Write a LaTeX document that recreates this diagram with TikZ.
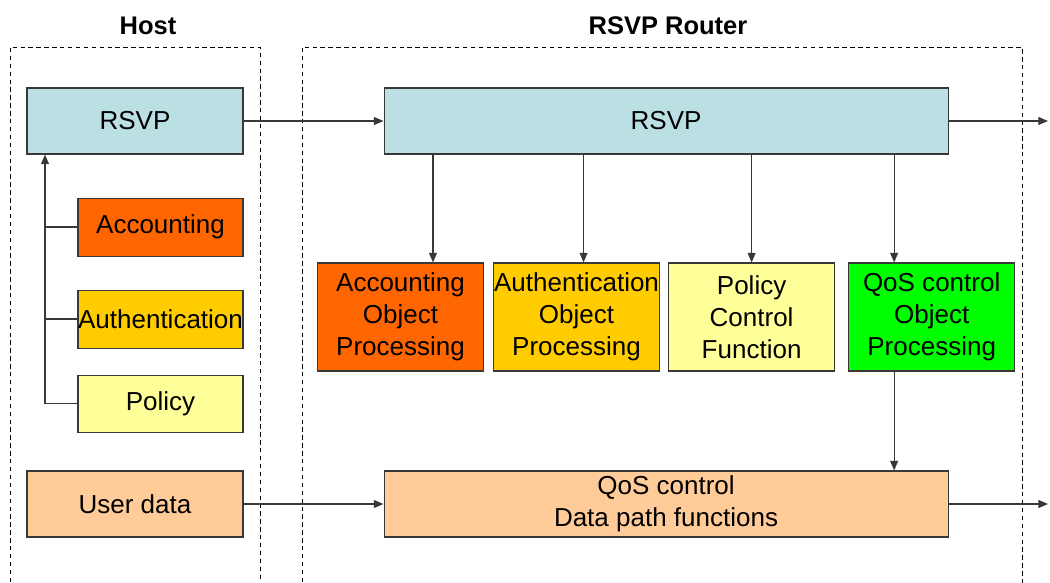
\documentclass[tikz,border=0pt]{standalone}
\usepackage{fontspec}
\setmainfont{Liberation Sans}
\usepackage{tikz}
\usetikzlibrary{arrows.meta, positioning}
\usepackage{xcolor}
\definecolor{cCyan}{HTML}{BBE0E3}
\definecolor{cOrange}{HTML}{FF6600}
\definecolor{cGold}{HTML}{FFCC00}
\definecolor{cLemon}{HTML}{FFFF99}
\definecolor{cGreen}{HTML}{00FF00}
\definecolor{cPeach}{HTML}{FFCC99}
\definecolor{cLine}{HTML}{383838}
\tikzset{
  basebox/.style={rectangle, draw=cLine, line width=0.6pt, align=center,
                  inner sep=0pt, font=\fontsize{14.8}{18.2}\selectfont},
  rsvpnode/.style={basebox, fill=cCyan, minimum width=4.32cm,
                   minimum height=1.32cm},
  hostnode/.style={basebox, minimum width=3.3cm, minimum height=1.16cm},
  objnode/.style={basebox, minimum width=3.32cm, minimum height=2.16cm},
  datanode/.style={basebox, fill=cPeach, minimum width=4.32cm,
                   minimum height=1.32cm},
  titlenode/.style={font=\fontsize{14.5}{17}\selectfont\bfseries},
  zonebox/.style={draw=black, line width=0.5pt, dash pattern=on 2.5pt off 2pt},
  arrow/.style={-{Triangle[length=5.5pt,width=4.5pt]}, line width=0.7pt,
                draw=cLine},
  plainline/.style={line width=0.7pt, draw=cLine}
}
\begin{document}
\begin{tikzpicture}[node distance=0.66cm and 2.8cm]
  \useasboundingbox (0,0) rectangle (21,-11.66);

  % ── Zones ──
  \node[titlenode] (hostT) at (2.96,-0.52) {Host};
  \node[titlenode] (routerT) at (13.36,-0.52) {RSVP Router};
  \draw[zonebox] (0.2,-11.8) |- (5.2,-0.94) -- (5.2,-11.8);
  \draw[zonebox] (6.04,-11.8) |- (20.44,-0.94) -- (20.44,-11.8);

  % ── Host ──
  \node[rsvpnode] (rsvpH) at (2.7,-2.42) {RSVP};
  \node[hostnode, fill=cOrange, below left=0.86cm and 0cm of rsvpH.south east]
      (acctH) {Accounting};
  \node[hostnode, fill=cGold, below=0.66cm of acctH] (authH) {Authentication};
  \node[hostnode, fill=cLemon, minimum height=1.14cm, below=0.52cm of authH]
      (polH) {Policy};
  \node[datanode] (userH) at (2.7,-10.08) {User data};

  % ── Router ──
  \node[rsvpnode, minimum width=11.28cm, right=of rsvpH] (rsvpR) {RSVP};
  \node[objnode, fill=cOrange] (acctR) at (8.01,-6.34)
      {Accounting\\Object\\Processing};
  \node[objnode, fill=cGold, right=0.18cm of acctR] (authR)
      {Authentication\\Object\\Processing};
  \node[objnode, fill=cLemon, right=0.16cm of authR] (polR)
      {Policy\\Control\\Function};
  \node[objnode, fill=cGreen, right=0.26cm of polR] (qosR)
      {QoS control\\Object\\Processing};
  \node[datanode, minimum width=11.28cm, right=of userH] (pathR)
      {QoS control\\Data path functions};

  \coordinate (fb) at (0.9,0);
  \coordinate (outR) at (20.96,0);

  % ── Host feedback ──
  \draw[arrow] (polH.west) -| (rsvpH.south -| fb);
  \draw[plainline] (acctH.west) -- (acctH.west -| fb);
  \draw[plainline] (authH.west) -- (authH.west -| fb);

  % ── Flows ──
  \draw[arrow] (rsvpH.east) -- (rsvpR.west);
  \draw[arrow] (rsvpR.east) -- (rsvpR.east -| outR);
  \draw[arrow] (userH.east) -- (pathR.west);
  \draw[arrow] (pathR.east) -- (pathR.east -| outR);

  \draw[arrow] ([xshift=0.65cm]acctR.north |- rsvpR.south) -- ([xshift=0.65cm]acctR.north);
  \draw[arrow] ([xshift=0.14cm]authR.north |- rsvpR.south) -- ([xshift=0.14cm]authR.north);
  \draw[arrow] (polR.north |- rsvpR.south) -- (polR.north);
  \draw[arrow] ([xshift=-0.75cm]qosR.north |- rsvpR.south) -- ([xshift=-0.75cm]qosR.north);
  \draw[arrow] ([xshift=-0.75cm]qosR.south) -- ([xshift=-0.75cm]qosR.south |- pathR.north);

\end{tikzpicture}
\end{document}
